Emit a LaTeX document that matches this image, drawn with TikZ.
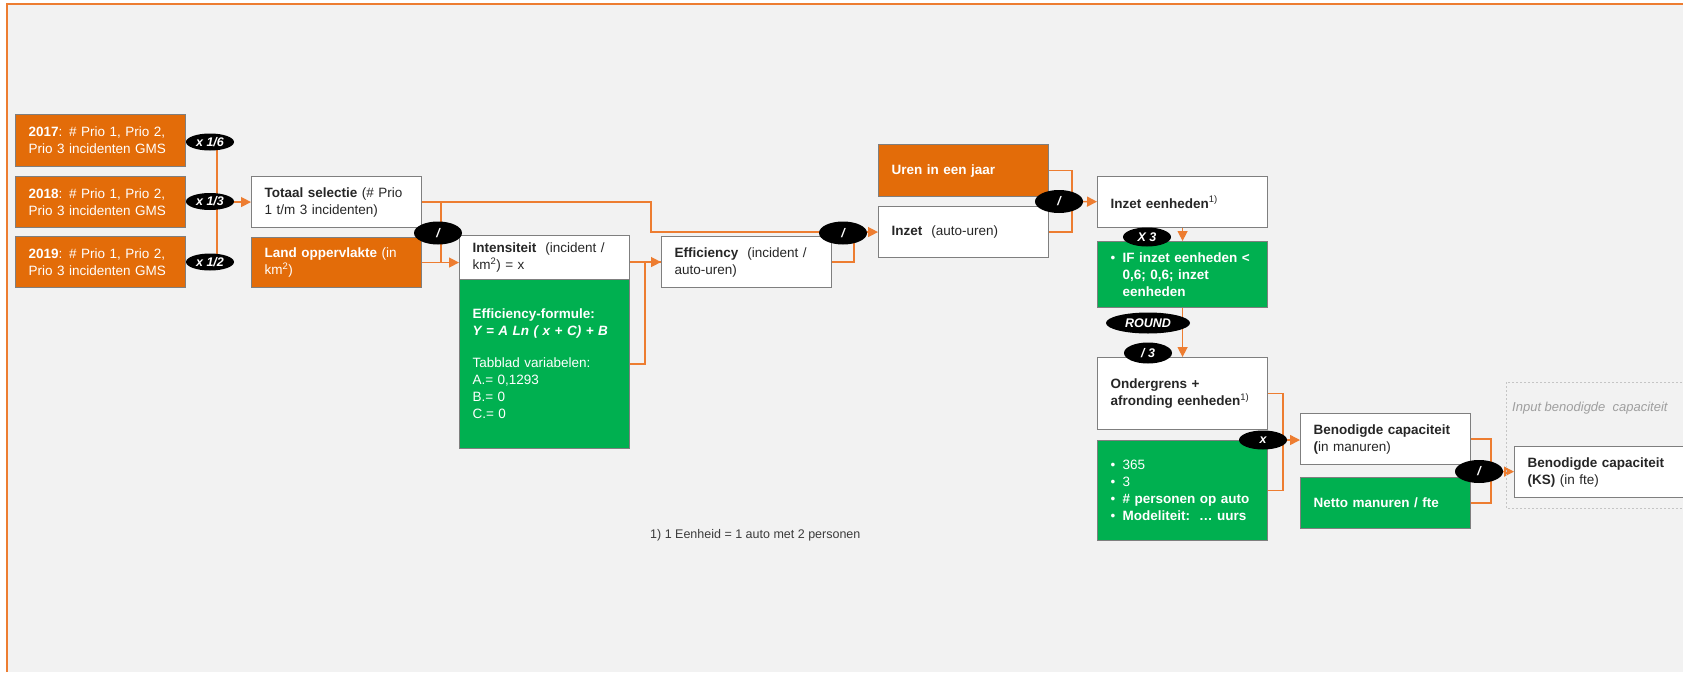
\documentclass[tikz,border=0pt]{standalone}
\usepackage{fontspec}
\setmainfont{Liberation Sans}
\usetikzlibrary{arrows.meta,shapes.geometric}
\definecolor{oranje}{HTML}{E36C09}
\definecolor{lijnkleur}{HTML}{ED7D31}
\definecolor{groen}{HTML}{00B050}
\definecolor{grijs}{HTML}{F2F2F2}
\definecolor{rand}{HTML}{7F7F7F}
\definecolor{tekst}{HTML}{262626}
\pgfdeclarelayer{achter}
\pgfdeclarelayer{lijnen}
\pgfsetlayers{achter,lijnen,main}
\newcommand{\punt}[1]{\hyphenpenalty=10000\hangindent=12pt\hangafter=1\noindent\makebox[12pt][l]{\textbullet}#1\par}
\tikzset{
  blok/.style={draw=rand, line width=1.1pt, anchor=north west, align=left,
    inner xsep=13pt, inner ysep=3pt, text width=144pt, text=tekst,
    font=\fontsize{13.5}{17}\selectfont},
  witblok/.style={blok, fill=white},
  oranjeblok/.style={blok, fill=oranje, text=white},
  groenblok/.style={blok, fill=groen, text=white},
  bewerking/.style={ellipse, fill=black, text=white, inner sep=0pt,
    minimum width=48pt, minimum height=21pt,
    font=\fontsize{12.5}{12}\selectfont\bfseries\itshape},
  lijn/.style={draw=lijnkleur, line width=1.4pt},
  pijl/.style={lijn, -{Triangle[length=10pt,width=10pt]}},
}
\begin{document}
\begin{tikzpicture}[x=1pt,y=-1pt]
  \useasboundingbox (0,0) rectangle (1683,672);
  \begin{pgfonlayer}{achter}
    \fill[white] (0,0) rectangle (1683,672);
    \fill[grijs] (7,4) rectangle (1683,672);
    \draw[lijnkleur, line width=1.5pt] (7,672) -- (7,4) -- (1683,4);
  \end{pgfonlayer}
  \clip (0,0) rectangle (1683,672);

  \node[oranjeblok, minimum height=52pt] (j2017) at (15,114) {\textbf{2017}: \# Prio 1, Prio 2,\\Prio 3 incidenten GMS};
  \node[oranjeblok, minimum height=51pt] (j2018) at (15,176) {\textbf{2018}: \# Prio 1, Prio 2,\\Prio 3 incidenten GMS};
  \node[oranjeblok, minimum height=51pt] (j2019) at (15,236) {\textbf{2019}: \# Prio 1, Prio 2,\\Prio 3 incidenten GMS};
  \node[witblok, minimum height=51pt] (totaal) at (251,176) {\textbf{Totaal selectie} (\# Prio\\1 t/m 3 incidenten)};
  \node[oranjeblok, minimum height=50pt] (land) at (251,237) {\textbf{Land oppervlakte} (in\\km\textsuperscript{2})};
  \node[witblok, minimum height=44pt] (intens) at (459,235) {\textbf{Intensiteit}\ \ (incident /\\km\textsuperscript{2}) = x};
  \node[groenblok, minimum height=169pt] (formule) at (459,279) {\textbf{Efficiency-formule:}\\\textbf{\itshape Y = A Ln ( x + C) + B}\\[15pt]Tabblad variabelen:\\A.= 0,1293\\B.= 0\\C.= 0};
  \node[witblok, minimum height=51pt] (effic) at (661,236) {\textbf{Efficiency}\ \ (incident /\\auto-uren)};
  \node[oranjeblok, minimum height=52pt] (uren) at (878,144) {\textbf{Uren in een jaar}};
  \node[witblok, minimum height=51pt] (inzet) at (878,206) {\textbf{Inzet}\ \ (auto-uren)};
  \node[witblok, minimum height=51pt] (eenh) at (1097,176) {\textbf{Inzet eenheden}\textsuperscript{1)}};
  \node[groenblok, minimum height=66pt] (ifblok) at (1097,241) {\punt{\textbf{IF inzet eenheden <}\newline\textbf{0,6; 0,6; inzet}\newline\textbf{eenheden}}};
  \node[witblok, minimum height=72pt] (ondergr) at (1097,357) {\textbf{Ondergrens +}\\\textbf{afronding eenheden}\textsuperscript{1)}};
  \node[groenblok, minimum height=100pt] (lijst) at (1097,440) {\punt{365}\punt{3}\punt{\textbf{\# personen op auto}}\punt{\textbf{Modeliteit:\ \ \dots\ uurs}}};
  \node[witblok, minimum height=51pt] (benod) at (1300,413) {\textbf{Benodigde capaciteit}\\\textbf{(}in manuren)};
  \node[groenblok, minimum height=51pt] (netto) at (1300,477) {\textbf{Netto manuren / fte}};
  \draw[rand!45, line width=0.8pt, dash pattern=on 2pt off 2pt] (1506,382) rectangle (1700,508);
  \node[anchor=west, inner sep=0pt, text=gray!75, font=\fontsize{13}{15}\selectfont\itshape] (input) at (1512,408) {Input benodigde\ \ capaciteit};
  \node[witblok, minimum height=51pt, text width=170pt] (ks) at (1514,446) {\textbf{Benodigde capaciteit}\\\textbf{(KS)} (in fte)};
  \node[anchor=west, inner sep=0pt, text=tekst!90, font=\fontsize{12.5}{15}\selectfont] (voetnoot) at (650,535) {1) 1 Eenheid = 1 auto met 2 personen};

  \node[bewerking, minimum height=17pt] (d17) at (210,142) {x 1/6};
  \node[bewerking, minimum height=17pt] (d13) at (210,201.5) {x 1/3};
  \node[bewerking, minimum height=17pt] (d12) at (210,262) {x 1/2};
  \node[bewerking, minimum height=23pt] (deel1) at (438,233) {/};
  \node[bewerking, minimum height=23pt] (deel2) at (843,233) {/};
  \node[bewerking, minimum height=23pt] (deel3) at (1059,201.5) {/};
  \node[bewerking, minimum height=19pt] (maal3) at (1147,237) {X 3};
  \node[bewerking, minimum width=84pt] (afr) at (1148,323) {ROUND};
  \node[bewerking] (deel4) at (1148,353) {/ 3};
  \node[bewerking, minimum height=19pt] (maal) at (1263,440) {x};
  \node[bewerking, minimum height=23pt] (deel5) at (1479,471.5) {/};

  \begin{pgfonlayer}{lijnen}
    \draw[lijn] (j2017.east) -- (j2017.east -| d17.center);
    \draw[lijn] (j2019.east) -- (j2019.east -| d12.center);
    \draw[lijn] ([xshift=7pt]d17.center) -- ([xshift=7pt]d12.center);
    \draw[pijl] (j2018) -- (totaal);
    \draw[pijl] (totaal.east) -- ++(229,0) |- (inzet.west);
    \draw[lijn] ([xshift=19pt]totaal.east) |- (land.east);
    \draw[pijl] (land.east) -- (land.east -| intens.west);
    \draw[pijl] (effic.west -| intens.east) -- (effic.west);
    \draw[lijn] (formule.east) -- ++(15,0) |- (effic.west);
    \draw[lijn] (effic.east) -| ([xshift=11pt]deel2.center);
    \draw[lijn] (uren.east) -| ([xshift=13pt]deel3.center) |- (inzet.east);
    \draw[pijl] (deel3) -- (eenh);
    \draw[pijl] (eenh) -- (ifblok);
    \draw[pijl] (ifblok) -- (ondergr);
    \draw[lijn] (ondergr.east) -| ([xshift=20pt]maal.center) |- (lijst.east);
    \draw[pijl] (maal.center) -- (maal -| benod.west);
    \draw[lijn] (benod.east) -| ([xshift=12pt]deel5.center) |- (netto.east);
    \draw[pijl] (deel5) -- (ks);
  \end{pgfonlayer}
\end{tikzpicture}
\end{document}
